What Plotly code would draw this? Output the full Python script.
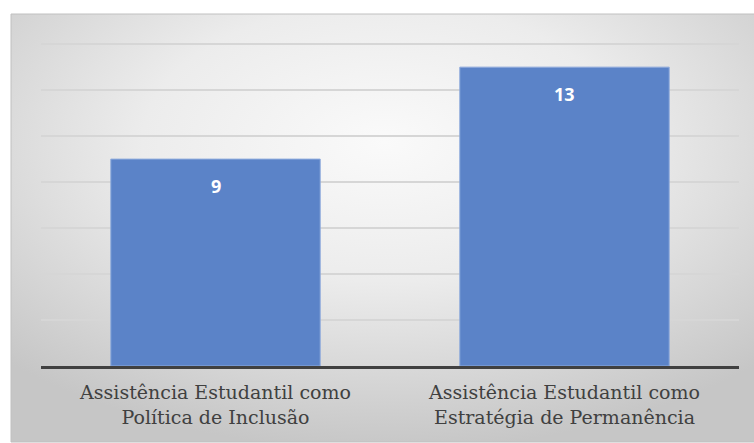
import base64
import plotly.graph_objects as go

# Chart data
categories = [
    "Assistência Estudantil como<br>Política de Inclusão",
    "Assistência Estudantil como<br>Estratégia de Permanência",
]
values = [9, 13]
y_ticks = [0, 2, 4, 6, 8, 10, 12, 14]
y_max = 14.05

W, H = 754, 443
ML, MR, MT, MB = 41, 15, 43, 77
plot_w = W - ML - MR
plot_h = H - MT - MB

# Soft radial gradient used as the chart-area background
svg = (
    '<svg xmlns="http://www.w3.org/2000/svg" width="745" height="428" '
    'viewBox="0 0 745 428" preserveAspectRatio="none">'
    '<defs><radialGradient id="g" cx="50%" cy="30%" r="72%">'
    '<stop offset="0" stop-color="#fafafa"/>'
    '<stop offset="0.45" stop-color="#ececec"/>'
    '<stop offset="1" stop-color="#c6c6c6"/>'
    '</radialGradient></defs>'
    '<rect width="745" height="428" fill="url(#g)"/></svg>'
)
bg_src = "data:image/svg+xml;base64," + base64.b64encode(svg.encode()).decode()

# Chart box in pixels -> paper coordinates
box_x0, box_x1, box_y0, box_y1 = 11, 758, 14, 442
px = lambda x: (x - ML) / plot_w
py = lambda y: (H - MB - y) / plot_h

fig = go.Figure()
fig.add_trace(
    go.Bar(
        x=categories,
        y=values,
        width=0.6,
        marker=dict(color="#5b83c8", line=dict(color="#8eaadc", width=1)),
        hoverinfo="skip",
    )
)

for c, v in zip(categories, values):
    fig.add_annotation(
        x=c, y=v, text=f"<b>{v}</b>", showarrow=False,
        yanchor="middle", yshift=-27,
        font=dict(family="Open Sans", size=18, color="#ffffff"),
    )

fig.add_layout_image(
    source=bg_src, xref="paper", yref="paper",
    x=px(box_x0), y=py(box_y0),
    sizex=px(box_x1) - px(box_x0), sizey=py(box_y0) - py(box_y1),
    xanchor="left", yanchor="top", sizing="stretch", layer="below",
)
fig.add_shape(
    type="rect", xref="paper", yref="paper",
    x0=px(box_x0), x1=px(box_x1), y0=py(box_y1), y1=py(box_y0),
    line=dict(color="#c0c0c0", width=1), fillcolor="rgba(0,0,0,0)",
    layer="below",
)

serif = "DejaVu Serif"

fig.update_layout(
    width=W, height=H,
    margin=dict(l=ML, r=MR, t=MT, b=MB),
    paper_bgcolor="#ffffff",
    plot_bgcolor="rgba(0,0,0,0)",
    showlegend=False,
    bargap=0.4,
    font=dict(family=serif, color="#404040"),
    xaxis=dict(
        showline=True, linecolor="#404040", linewidth=3,
        showgrid=False, ticks="",
        tickfont=dict(family=serif, size=19, color="#404040"),
        ticklabelstandoff=7,
    ),
    yaxis=dict(
        range=[0, y_max], tickvals=y_ticks, showticklabels=False,
        showgrid=True, gridcolor="#d6d6d6", gridwidth=1.5,
        zeroline=False, showline=False,
    ),
)

fig.write_html("out.html")
